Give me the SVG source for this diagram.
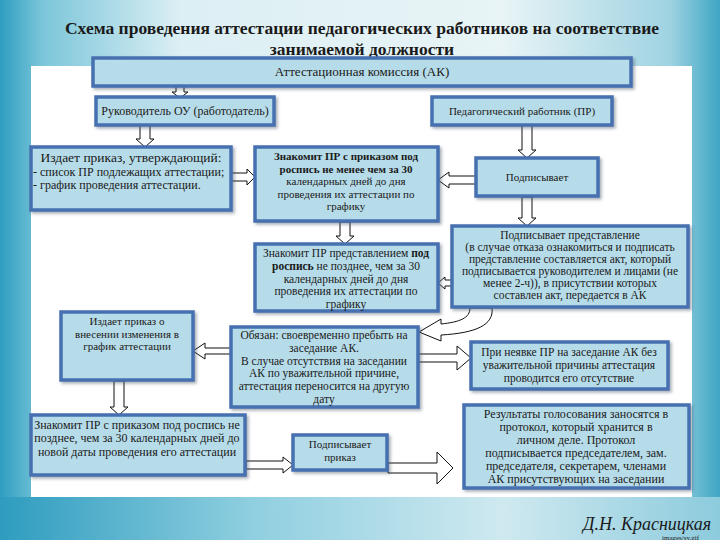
<svg xmlns="http://www.w3.org/2000/svg" width="720" height="540" viewBox="0 0 720 540" font-family="'Liberation Serif', serif">
<defs>
<linearGradient id="bgH" x1="0" y1="0" x2="1" y2="0">
<stop offset="0" stop-color="#2f9ec0"/>
<stop offset="0.06" stop-color="#7cc6da"/>
<stop offset="0.25" stop-color="#dceff4"/>
<stop offset="0.7" stop-color="#e8f4f6"/>
<stop offset="0.93" stop-color="#9fd3e2"/>
<stop offset="1" stop-color="#3ea6c4"/>
</linearGradient>
<linearGradient id="bgB" x1="0" y1="0" x2="1" y2="0">
<stop offset="0" stop-color="#2e9cbf"/>
<stop offset="0.35" stop-color="#8fcfe0"/>
<stop offset="0.7" stop-color="#cfe9f0"/>
<stop offset="1" stop-color="#8ccbdd"/>
</linearGradient>
<filter id="sh" x="-10%" y="-10%" width="130%" height="140%">
<feDropShadow dx="2" dy="2" stdDeviation="1.5" flood-color="#445566" flood-opacity="0.45"/>
</filter>
<style>
.box{fill:#b7dce9;stroke:#4670b0;stroke-width:3.5;filter:url(#sh)}
.arr{fill:#ffffff;stroke:#111111;stroke-width:1}
text{font-family:'Liberation Serif',serif;fill:#1a1a1a}
.c{text-anchor:middle}
.t11{font-size:11px}
.t12{font-size:11.5px}
.b{font-weight:bold}
</style>
</defs>
<rect x="0" y="0" width="720" height="540" fill="url(#bgH)"/>
<rect x="0" y="497" width="720" height="43" fill="url(#bgB)"/>
<rect x="31" y="66" width="661" height="431" fill="#ffffff"/>

<text x="362" y="34" class="c b" font-size="17.5">Схема проведения аттестации педагогических работников на соответствие</text>
<text x="362" y="55" class="c b" font-size="17.5">занимаемой должности</text>

<g id="connectors">
<path class="arr" d="M176 86 H184 V92 H188 L180 98 L172 92 H176 Z"/>
<path class="arr" d="M140 125 H150 V139 H154 L145 147 L136 139 H140 Z"/>
<path class="arr" d="M522 125 H532 V150 H536 L527 158 L518 150 H522 Z"/>
<path class="arr" d="M522 197 H532 V218 H536 L527 226 L518 218 H522 Z"/>
<path class="arr" d="M340 222 H350 V236 H354 L345 244 L336 236 H340 Z"/>
<path class="arr" d="M114 381 H124 V407 H128 L119 415 L110 407 H114 Z"/>
<path class="arr" d="M231 173 H247 V169 L255 177 L247 185 V181 H231 Z"/>
<path class="arr" d="M476 176 H449 V172 L438 180 L449 188 V184 H476 Z"/>
<path class="arr" d="M452 280 H445 V277 L438 283 L445 289 V286 H452 Z"/>
<path class="arr" d="M231 348 H205 V343 L193 351 L205 359 V354 H231 Z"/>
<path class="arr" d="M418 354 H457 V346 L471 358 L457 370 V362 H418 Z"/>
<path class="arr" d="M246 461 H283 V457 L293 465 L283 473 V469 H246 Z"/>
<path class="arr" d="M388 463 H437 V452 L453 468 L437 484 V473 H388 Z"/>
<path class="arr" d="M470 308 C470 318 460 322 441 324 L441 319 L419 332 L441 341 L441 335 C476 333 494 325 492 308 Z"/>
</g>

<g id="ak"><rect class="box" x="93" y="58" width="538" height="28"/>
<text x="362" y="76" class="c" font-size="13">Аттестационная комиссия (АК)</text></g>

<g id="rukovoditel"><rect class="box" x="96" y="97" width="178" height="28"/>
<text x="185" y="115" class="c" font-size="12">Руководитель ОУ (работодатель)</text></g>

<g id="pr"><rect class="box" x="432" y="97" width="180" height="28"/>
<text x="522" y="115" class="c t11">Педагогический работник (ПР)</text></g>

<g id="izdaet"><rect class="box" x="31" y="147" width="200" height="63"/>
<text x="131" y="162" class="c" font-size="13.5">Издает приказ, утверждающий:</text>
<text x="33" y="175.5" font-size="12">- список ПР подлежащих аттестации;</text>
<text x="33" y="189" font-size="12">- график проведения аттестации.</text></g>

<g id="znakomit1"><rect class="box" x="255" y="147" width="183" height="74"/>
<text x="346" y="160" class="c t11 b">Знакомит ПР с приказом под</text>
<text x="346" y="172.5" class="c t11 b">роспись не менее чем за 30</text>
<text x="346" y="185" class="c t11">календарных дней до дня</text>
<text x="346" y="197.5" class="c t11">проведения их аттестации по</text>
<text x="346" y="210" class="c t11">графику</text></g>

<g id="podpisyvaet"><rect class="box" x="476" y="158" width="122" height="38"/>
<text x="537" y="181" class="c t11">Подписывает</text></g>

<g id="predstavlenie"><rect class="box" x="452" y="226" width="236" height="81"/>
<text x="570" y="239" class="c" font-size="11.5">Подписывает представление</text>
<text x="570" y="251" class="c" font-size="11.5">(в случае отказа ознакомиться и подписать</text>
<text x="570" y="263" class="c" font-size="11.5">представление составляется акт, который</text>
<text x="570" y="275" class="c" font-size="11.5">подписывается руководителем и лицами (не</text>
<text x="570" y="287" class="c" font-size="11.5">менее 2-ч)), в присутствии которых</text>
<text x="570" y="299" class="c" font-size="11.5">составлен акт, передается в АК</text></g>

<g id="znakomit2"><rect class="box" x="255" y="244" width="183" height="67"/>
<text x="346" y="257" class="c t12">Знакомит ПР представлением <tspan class="b">под</tspan></text>
<text x="346" y="269.8" class="c t12"><tspan class="b">роспись</tspan> не позднее, чем за 30</text>
<text x="346" y="282.6" class="c t12">календарных дней до дня</text>
<text x="346" y="295.4" class="c t12">проведения их аттестации по</text>
<text x="346" y="308" class="c t12">графику</text></g>

<g id="izmenenie"><rect class="box" x="61" y="312" width="132" height="68"/>
<text x="127" y="325" class="c t11">Издает приказ о</text>
<text x="127" y="337.5" class="c t11">внесении изменения в</text>
<text x="127" y="350" class="c t11">график аттестации</text></g>

<g id="obyazan"><rect class="box" x="231" y="327" width="187" height="80"/>
<text x="324" y="339" class="c t12">Обязан: своевременно пребыть на</text>
<text x="324" y="351.8" class="c t12">заседание АК.</text>
<text x="324" y="364.6" class="c t12">В случае отсутствия на заседании</text>
<text x="324" y="377.4" class="c t12">АК по уважительной причине,</text>
<text x="324" y="390.2" class="c t12">аттестация переносится на другую</text>
<text x="324" y="403" class="c t12">дату</text></g>

<g id="neyavka"><rect class="box" x="471" y="342" width="197" height="47"/>
<text x="569" y="355.5" class="c t12">При неявке ПР на заседание АК без</text>
<text x="569" y="368.5" class="c t12">уважительной причины аттестация</text>
<text x="569" y="381.5" class="c t12">проводится его отсутствие</text></g>

<g id="znakomit3"><rect class="box" x="31" y="415" width="214" height="60"/>
<text x="137" y="428.5" class="c" font-size="12">Знакомит ПР с приказом под роспись не</text>
<text x="137" y="442" class="c" font-size="12">позднее, чем за 30 календарных дней до</text>
<text x="137" y="455.5" class="c" font-size="12">новой даты проведения его аттестации</text></g>

<g id="prikaz"><rect class="box" x="293" y="435" width="94" height="35"/>
<text x="340" y="448" class="c t11">Подписывает</text>
<text x="340" y="461" class="c t11">приказ</text></g>

<g id="rezultaty"><rect class="box" x="464" y="405" width="225" height="83"/>
<text x="576" y="418" class="c" font-size="12">Результаты голосования заносятся в</text>
<text x="576" y="431" class="c" font-size="12">протокол, который  хранится в</text>
<text x="576" y="444" class="c" font-size="12">личном деле. Протокол</text>
<text x="576" y="457" class="c" font-size="12">подписывается председателем, зам.</text>
<text x="576" y="470" class="c" font-size="12">председателя, секретарем, членами</text>
<text x="576" y="483" class="c" font-size="12">АК присутствующих на заседании</text></g>

<text x="583" y="530" font-size="18" font-style="italic" fill="#222">Д.Н. Красницкая</text>
<text x="662" y="539.5" font-family="'Liberation Sans', sans-serif" font-size="7" fill="#e8f2f5">images/sy.gif</text>
</svg>
